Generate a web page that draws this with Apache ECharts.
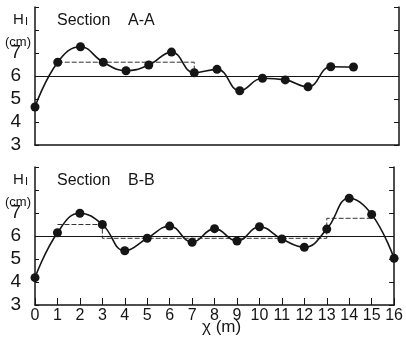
<!DOCTYPE html>
<html>
<head>
<meta charset="utf-8">
<script src="https://cdn.jsdelivr.net/npm/echarts@6/dist/echarts.min.js"></script>
<style>
  html, body { margin: 0; padding: 0; background: #fff; }
  #chart { width: 406px; height: 337px; }
</style>
</head>
<body>
<div id="chart"></div>
<script>
// Distance along the section (m)
const positions = [0, 1, 2, 3, 4, 5, 6, 7, 8, 9, 10, 11, 12, 13, 14, 15, 16];

// Measured heights H_I (cm)
const sectionA = [4.65, 6.6, 7.27, 6.6, 6.23, 6.48, 7.04, 6.14, 6.29, 5.36, 5.9, 5.83, 5.53, 6.4, 6.39];
const sectionB = [4.19, 6.14, 6.99, 6.5, 5.36, 5.9, 6.43, 5.73, 6.32, 5.78, 6.4, 5.87, 5.51, 6.3, 7.64, 6.94, 5.03];

// Stepwise mean levels (dashed)
const stepAx = [1, 7, 7];
const stepAy = [6.6, 6.6, 6.0];
const stepBx = [1, 3, 3, 13, 13, 15];
const stepBy = [6.5, 6.5, 5.9, 5.9, 6.77, 6.77];

// Reference level (cm)
const referenceLevel = 6;

// Axis settings
const yMin = 3, yMax = 9;
const yLabelled = [3, 4, 5, 6, 7];
const xMin = 0, xMax = 16;

const ink = '#151515';
const fontFamily = '"Liberation Sans", Arimo, sans-serif';

const pairs = (xsArr, ysArr) => ysArr.map((v, i) => [xsArr[i], v]);

function yAxisPair(gridIndex) {
  return [
    {
      type: 'value', gridIndex, position: 'left', min: yMin, max: yMax, interval: 1,
      axisLine: { show: true, lineStyle: { color: ink, width: 1.5 } },
      axisTick: { show: true, inside: true, length: 4, lineStyle: { color: ink } },
      axisLabel: {
        color: ink, fontSize: 19, fontFamily, margin: 14,
        formatter: v => (yLabelled.indexOf(v) >= 0 ? String(v) : '')
      },
      splitLine: { show: false }
    },
    {
      type: 'value', gridIndex, position: 'right', min: yMin, max: yMax, interval: 1,
      axisLine: { show: true, lineStyle: { color: ink, width: 1.5 } },
      axisTick: { show: true, inside: true, length: 5, lineStyle: { color: ink } },
      axisLabel: { show: false },
      splitLine: { show: false }
    }
  ];
}

function profileSeries(data, xAxisIndex, yAxisIndex) {
  return {
    type: 'line', xAxisIndex, yAxisIndex,
    data: pairs(positions, data),
    smooth: 0.45,
    symbol: 'circle', symbolSize: 9,
    itemStyle: { color: ink },
    lineStyle: { color: ink, width: 1.6 },
    z: 5,
    markLine: {
      silent: true, symbol: 'none', label: { show: false },
      lineStyle: { color: ink, width: 1, type: 'solid' },
      data: [{ yAxis: referenceLevel }]
    }
  };
}

function stepSeries(xsArr, ysArr, xAxisIndex, yAxisIndex) {
  return {
    type: 'line', xAxisIndex, yAxisIndex,
    data: pairs(xsArr, ysArr),
    symbol: 'none',
    lineStyle: { color: '#333', width: 1, type: [5, 2] },
    z: 3
  };
}

function panelTitle(top, name) {
  return [
    { type: 'text', left: 13, top: top - 1, style: { text: 'H', fontSize: 15, fontFamily, fill: ink } },
    { type: 'text', left: 25, top: top + 3, style: { text: 'I', fontSize: 11, fontFamily, fill: ink } },
    { type: 'text', left: 5, top: top + 23, style: { text: '(cm)', fontSize: 13, fontFamily, fill: ink } },
    { type: 'text', left: 57, top: top, style: { text: 'Section', fontSize: 16, fontFamily, fill: ink } },
    { type: 'text', left: 128, top: top, style: { text: name, fontSize: 16, fontFamily, fill: ink } }
  ];
}

const chart = echarts.init(document.getElementById('chart'), null, { renderer: 'canvas' });

chart.setOption({
  backgroundColor: '#fff',
  animation: false,
  grid: [
    { left: 35, right: 7, top: 7, height: 138 },
    { left: 35, right: 7, top: 167, height: 138 }
  ],
  xAxis: [
    {
      type: 'value', gridIndex: 0, min: xMin, max: xMax, interval: 1,
      axisLine: { show: true, lineStyle: { color: ink, width: 1.5 } },
      axisTick: { show: false }, axisLabel: { show: false }, splitLine: { show: false }
    },
    {
      type: 'value', gridIndex: 1, min: xMin, max: xMax, interval: 1,
      axisLine: { show: true, lineStyle: { color: ink, width: 1.5 } },
      axisTick: { show: true, inside: true, length: 7, lineStyle: { color: ink } },
      axisLabel: { color: ink, fontSize: 16, fontFamily, margin: 3 },
      splitLine: { show: false }
    }
  ],
  yAxis: [...yAxisPair(0), ...yAxisPair(1)],
  series: [
    profileSeries(sectionA, 0, 0),
    stepSeries(stepAx, stepAy, 0, 0),
    profileSeries(sectionB, 1, 2),
    stepSeries(stepBx, stepBy, 1, 2)
  ],
  graphic: [
    ...panelTitle(13, 'A-A'),
    ...panelTitle(173, 'B-B'),
    { type: 'text', left: 202, top: 319, style: { text: 'χ (m)', fontSize: 17, fontFamily, fill: ink } }
  ]
});
</script>
</body>
</html>
